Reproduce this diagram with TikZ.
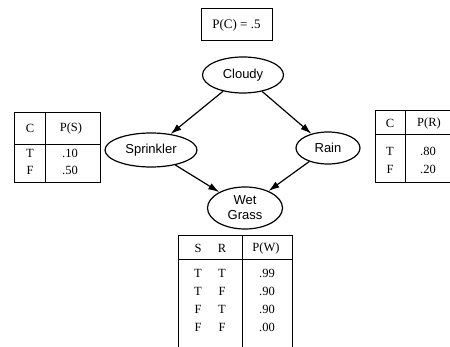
\documentclass[tikz,border=0pt]{standalone}
\usepackage{fontspec}
\setmainfont{Liberation Serif}
\newfontfamily\varfont{Liberation Sans}
\usetikzlibrary{shapes.geometric,arrows.meta}

\tikzset{
  var/.style={ellipse, draw, line width=1.2pt, inner sep=0pt, align=center,
    font=\varfont\fontsize{13}{15}\selectfont},
  edge/.style={-{Latex[length=11pt,width=7pt]}, line width=1.2pt},
  cpt/.style={line width=1pt},
  entry/.style={inner sep=0pt, font=\fontsize{12.5}{14}\selectfont}
}

\begin{document}
\begin{tikzpicture}[x=1pt,y=-1pt]
			%%%%% START %%%%%
			\useasboundingbox (0,0) rectangle (450,347);
			
			\node[draw, cpt, minimum width=71pt, minimum height=32pt, inner sep=0pt,
			  font=\fontsize{13}{15}\selectfont] (prior) at (236.5,25) {P(C) = .5};
			
			\node[var, minimum width=81pt, minimum height=36pt] (cloudy) at (243,75) {Cloudy};
			\node[var, minimum width=92pt, minimum height=34pt] (sprinkler) at (151,150) {Sprinkler};
			\node[var, minimum width=64pt, minimum height=32pt] (rain) at (328,148) {Rain};
			\node[var, minimum width=75pt, minimum height=42pt] (wet) at (245,208) {Wet\\Grass};
			
			\draw[edge] (cloudy) -- (sprinkler);
			\draw[edge] (cloudy) -- (rain);
			\draw[edge] (sprinkler) -- (wet);
			\draw[edge] (rain) -- (wet);
			
			% table P(S)
			\draw[cpt] (14,113) rectangle (100,183);
			\draw[cpt] (14,145) -- (100,145);
			\draw[cpt] (45,113) -- (45,183);
			\node[entry] (s-c) at (30,128) {C};
			\node[entry] (s-p) at (71,128) {P(S)};
			\node[entry] (s-t) at (30,153) {T};
			\node[entry] (s-tv) at (70,153) {.10};
			\node[entry] (s-f) at (30,170) {F};
			\node[entry] (s-fv) at (70,170) {.50};
			
			% table P(R)
			\draw[cpt] (450,111) -- (375,111) -- (375,183) -- (450,183);
			\draw[cpt] (375,135) -- (450,135);
			\draw[cpt] (405,111) -- (405,183);
			\node[entry] (r-c) at (390,123) {C};
			\node[entry] (r-p) at (429,123) {P(R)};
			\node[entry] (r-t) at (390,151) {T};
			\node[entry] (r-tv) at (428,151) {.80};
			\node[entry] (r-f) at (390,169) {F};
			\node[entry] (r-fv) at (428,169) {.20};
			
			% table P(W)
			\draw[cpt] (178,347) -- (178,236) -- (292,236) -- (292,347);
			\draw[cpt] (178,260) -- (292,260);
			\draw[cpt] (242,236) -- (242,347);
			\node[entry] (w-s) at (198,248) {S};
			\node[entry] (w-r) at (222,248) {R};
			\node[entry] (w-p) at (266,248) {P(W)};
			\foreach \s/\r/\v [count=\i] in {T/T/.99, T/F/.90, F/T/.90, F/F/.00} {
			  \node[entry] (w-s\i) at (198,{255+18*\i}) {\s};
			  \node[entry] (w-r\i) at (222,{255+18*\i}) {\r};
			  \node[entry] (w-v\i) at (267,{255+18*\i}) {\v};
			}
			%%%%% END %%%%%
\end{tikzpicture}
\end{document}
